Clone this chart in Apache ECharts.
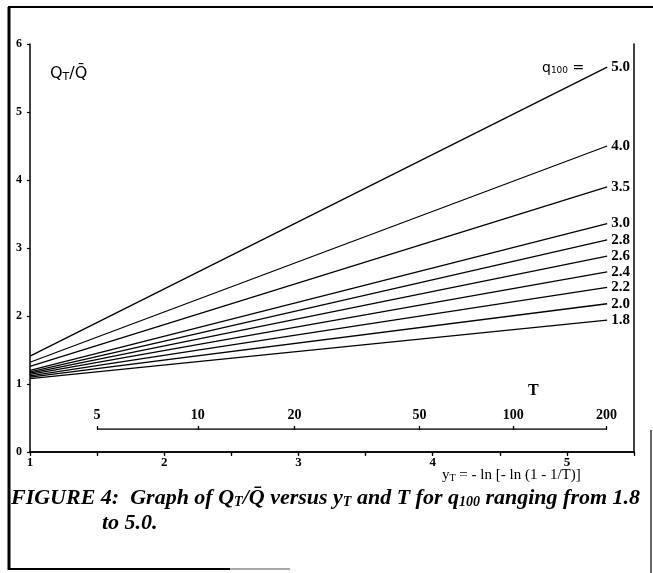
<!DOCTYPE html>
<html>
<head>
<meta charset="utf-8">
<script src="https://cdn.jsdelivr.net/npm/echarts@6/dist/echarts.min.js"></script>
<style>
html,body{margin:0;padding:0;background:#fff;}
#main{width:653px;height:573px;}
</style>
</head>
<body>
<div id="main"></div>
<script>
// ---- data ----
const q100Labels = ['5.0', '4.0', '3.5', '3.0', '2.8', '2.6', '2.4', '2.2', '2.0', '1.8'];
const xStart = 1.0;      // y_T where lines start
const xEnd = 5.3;        // y_T where lines end (T = 200)
const startValues = [1.41, 1.32, 1.26, 1.20, 1.18, 1.16, 1.14, 1.12, 1.10, 1.08];
const endValues   = [5.66, 4.50, 3.90, 3.36, 3.12, 2.88, 2.65, 2.42, 2.18, 1.94];
const yTicks = [0, 1, 2, 3, 4, 5, 6];
const xTickLabels = [1, 2, 3, 4, 5];
const returnPeriods = [5, 10, 20, 50, 100, 200];

// Gumbel reduced variate for return period T
const yT = T => -Math.log(-Math.log(1 - 1 / T));
const tPositions = returnPeriods.map(yT);

const serif = 'Liberation Serif';
const series = q100Labels.map((name, i) => ({
  name: name,
  type: 'line',
  xAxisIndex: 0,
  yAxisIndex: 0,
  data: [[xStart, startValues[i]], [xEnd, endValues[i]]],
  showSymbol: false,
  silent: true,
  lineStyle: { color: '#000', width: 1.3 },
  endLabel: {
    show: true,
    formatter: name,
    color: '#000',
    fontFamily: serif,
    fontWeight: 'bold',
    fontSize: 15,
    distance: 4
  }
}));

// T axis baseline from T=5 to T=200
series.push({
  type: 'line',
  xAxisIndex: 2,
  yAxisIndex: 2,
  data: [[yT(returnPeriods[0]), 1], [yT(returnPeriods[returnPeriods.length - 1]), 1]],
  showSymbol: false,
  silent: true,
  lineStyle: { color: '#000', width: 1.3 }
});

const gridLeft = 30, gridTop = 44, gridWidth = 604, gridHeight = 408;

const chart = echarts.init(document.getElementById('main'), null, { renderer: 'canvas' });
chart.setOption({
  backgroundColor: '#fff',
  animation: false,
  grid: [
    { left: gridLeft, top: gridTop, width: gridWidth, height: gridHeight },
    { left: gridLeft, top: 429, width: gridWidth, height: 1 }
  ],
  xAxis: [
    {
      gridIndex: 0, type: 'value', min: 1, max: 5.5, interval: 0.5, position: 'bottom',
      axisLine: { lineStyle: { color: '#000', width: 1.5 } },
      axisTick: { length: 4, lineStyle: { color: '#000', width: 1.2 } },
      splitLine: { show: false },
      axisLabel: {
        color: '#000', fontFamily: serif, fontWeight: 'bold', fontSize: 13, margin: 4,
        formatter: v => (xTickLabels.indexOf(v) >= 0 ? String(v) : '')
      }
    },
    {
      gridIndex: 0, type: 'value', min: 1, max: 5.5, interval: 0.5, position: 'top',
      axisLine: { lineStyle: { color: '#000', width: 1.5 } },
      axisTick: { length: 3, inside: true, lineStyle: { color: '#000', width: 1.2 } },
      splitLine: { show: false },
      axisLabel: { show: false }
    },
    {
      gridIndex: 1, type: 'value', min: 1, max: 5.5, position: 'top',
      axisLine: { show: false },
      axisTick: { show: true, length: 4, customValues: tPositions, lineStyle: { color: '#000', width: 1.3 } },
      splitLine: { show: false },
      axisLabel: {
        show: true, customValues: tPositions, margin: 7,
        color: '#000', fontFamily: serif, fontWeight: 'bold', fontSize: 14,
        formatter: v => {
          let best = returnPeriods[0], d = Infinity;
          returnPeriods.forEach(T => { const dd = Math.abs(yT(T) - v); if (dd < d) { d = dd; best = T; } });
          return String(best);
        }
      }
    }
  ],
  yAxis: [
    {
      gridIndex: 0, type: 'value', min: 0, max: 6, interval: 1, position: 'left',
      axisLine: { show: true, lineStyle: { color: '#000', width: 1.5 } },
      axisTick: { show: true, length: 3, lineStyle: { color: '#000', width: 1.2 } },
      splitLine: { show: false },
      axisLabel: {
        color: '#000', fontFamily: serif, fontWeight: 'bold', fontSize: 12, margin: 8,
        formatter: v => (yTicks.indexOf(v) >= 0 ? String(v) : '')
      }
    },
    {
      gridIndex: 0, type: 'value', min: 0, max: 6, position: 'right',
      axisLine: { show: true, lineStyle: { color: '#000', width: 1.5 } },
      axisTick: { show: false }, axisLabel: { show: false }, splitLine: { show: false }
    },
    {
      gridIndex: 1, type: 'value', min: 0, max: 1, show: false
    }
  ],
  series: series,
  graphic: [
    // outer frame
    { type: 'line', shape: { x1: 9, y1: 7, x2: 9, y2: 570 }, style: { stroke: '#000', lineWidth: 3 } },
    { type: 'line', shape: { x1: 8, y1: 7, x2: 653, y2: 7 }, style: { stroke: '#000', lineWidth: 2 } },
    { type: 'line', shape: { x1: 651, y1: 430, x2: 651, y2: 573 }, style: { stroke: '#333', lineWidth: 1.5 } },
    { type: 'line', shape: { x1: 8, y1: 569, x2: 230, y2: 569 }, style: { stroke: '#000', lineWidth: 2 } },
    { type: 'line', shape: { x1: 230, y1: 569, x2: 290, y2: 569 }, style: { stroke: '#aaa', lineWidth: 2 } },
    // Q_T / Q-bar label
    {
      type: 'text', left: 50, top: 66,
      style: {
        text: '{a|Q}{s|T}{a|/Q\u0304}',
        rich: {
          a: { fontFamily: 'DejaVu Sans', fontSize: 16, fill: '#000' },
          s: { fontFamily: 'DejaVu Sans', fontSize: 11, fill: '#000', padding: [6, 0, 0, 0] }
        }
      }
    },
    // q100 = label
    {
      type: 'text', left: 542, top: 61,
      style: {
        text: '{a|q}{s|100}{a| =}',
        rich: {
          a: { fontFamily: 'DejaVu Sans', fontSize: 14, fill: '#000' },
          s: { fontFamily: 'DejaVu Sans', fontSize: 9, fill: '#000', padding: [5, 0, 0, 0] }
        }
      }
    },
    // T label
    {
      type: 'text', left: 528, top: 383,
      style: { text: 'T', fontFamily: serif, fontWeight: 'bold', fontSize: 16, fill: '#000' }
    },
    // x axis title
    {
      type: 'text', left: 442, top: 468,
      style: {
        text: '{a|y}{s|T}{a| = - ln [- ln (1 - 1/T)]}',
        rich: {
          a: { fontFamily: serif, fontSize: 15, fill: '#000' },
          s: { fontFamily: serif, fontSize: 10, fill: '#000', padding: [6, 0, 0, 0] }
        }
      }
    },
    // caption
    {
      type: 'text', left: 11, top: 487,
      style: {
        text: '{a|FIGURE 4:  Graph of Q}{s|T}{a|/Q\u0304 versus y}{s|T}{a| and T for q}{s|100}{a| ranging from 1.8}',
        rich: {
          a: { fontFamily: serif, fontWeight: 'bold', fontStyle: 'italic', fontSize: 22, fill: '#000' },
          s: { fontFamily: serif, fontWeight: 'bold', fontStyle: 'italic', fontSize: 14, fill: '#000', padding: [9, 0, 0, 0] }
        }
      }
    },
    {
      type: 'text', left: 102, top: 512,
      style: { text: 'to 5.0.', fontFamily: serif, fontWeight: 'bold', fontStyle: 'italic', fontSize: 22, fill: '#000' }
    }
  ]
});
</script>
</body>
</html>
